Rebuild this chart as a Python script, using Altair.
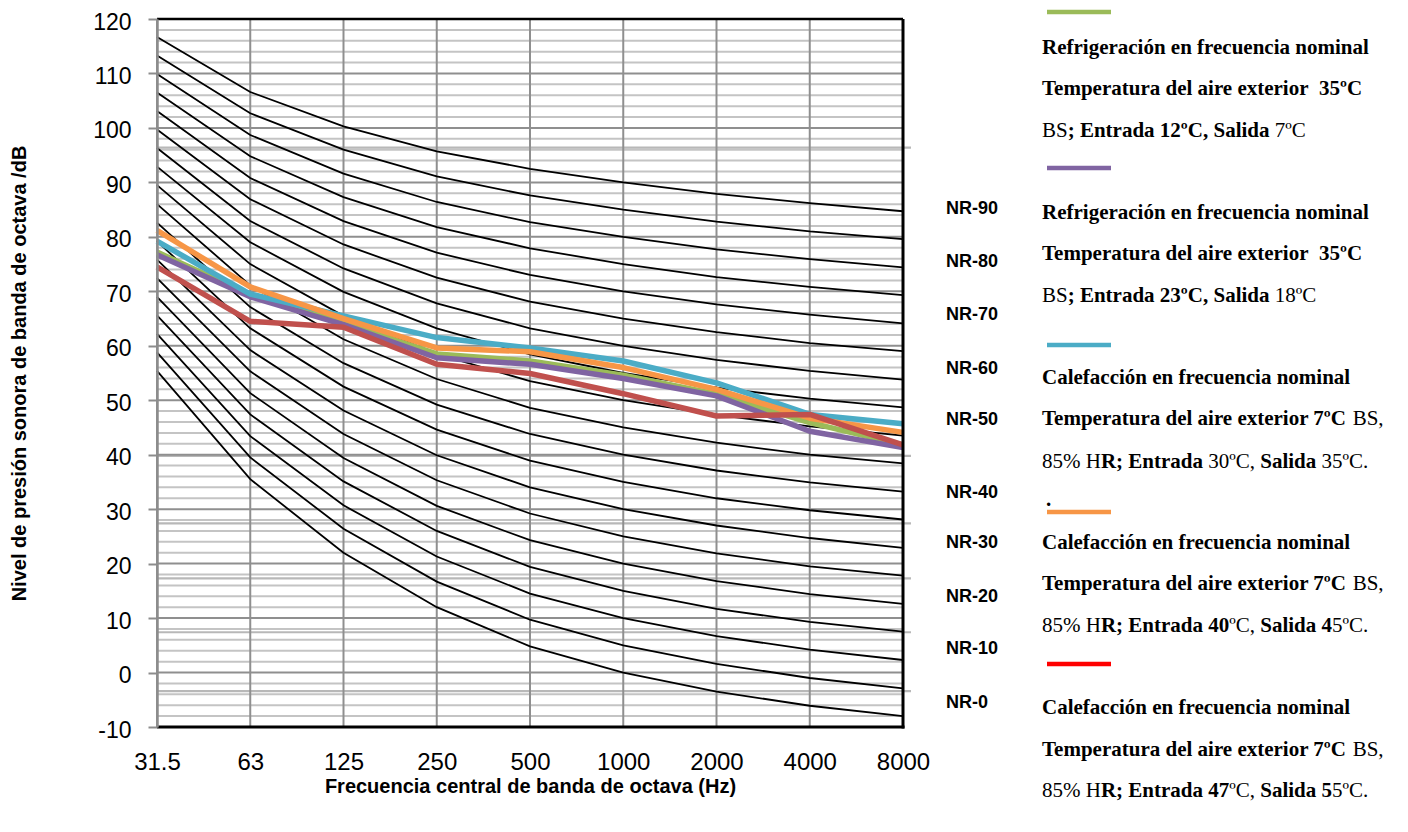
import altair as alt
import pandas as pd

# ---------------- data ----------------
freqs = ["31.5", "63", "125", "250", "500", "1000", "2000", "4000", "8000"]

nr_curves = {
    "NR-0":  [55.4, 35.5, 22.0, 12.0, 4.8, 0.0, -3.5, -6.1, -8.0],
    "NR-5":  [58.8, 39.5, 26.4, 16.7, 9.7, 5.0, 1.6, -1.0, -2.9],
    "NR-10": [62.2, 43.4, 30.7, 21.3, 14.5, 10.0, 6.7, 4.2, 2.3],
    "NR-15": [65.6, 47.4, 35.1, 26.0, 19.4, 15.0, 11.7, 9.3, 7.5],
    "NR-20": [69.0, 51.3, 39.4, 30.6, 24.3, 20.0, 16.8, 14.4, 12.6],
    "NR-25": [72.4, 55.3, 43.8, 35.3, 29.2, 25.0, 21.9, 19.5, 17.8],
    "NR-30": [75.8, 59.2, 48.1, 39.9, 34.0, 30.0, 27.0, 24.7, 22.9],
    "NR-35": [79.2, 63.2, 52.5, 44.6, 38.9, 35.0, 32.0, 29.8, 28.1],
    "NR-40": [82.6, 67.1, 56.8, 49.2, 43.8, 40.0, 37.1, 34.9, 33.2],
    "NR-45": [86.0, 71.1, 61.2, 53.9, 48.6, 45.0, 42.2, 40.0, 38.4],
    "NR-50": [89.5, 75.0, 65.5, 58.5, 53.5, 50.0, 47.3, 45.2, 43.5],
    "NR-55": [92.9, 79.0, 69.9, 63.2, 58.4, 55.0, 52.3, 50.3, 48.7],
    "NR-60": [96.3, 82.9, 74.2, 67.8, 63.2, 60.0, 57.4, 55.4, 53.8],
    "NR-65": [99.7, 86.9, 78.6, 72.5, 68.1, 65.0, 62.5, 60.5, 59.0],
    "NR-70": [103.1, 90.8, 82.9, 77.1, 73.0, 70.0, 67.6, 65.7, 64.1],
    "NR-75": [106.5, 94.8, 87.3, 81.8, 77.9, 75.0, 72.6, 70.8, 69.3],
    "NR-80": [109.9, 98.7, 91.6, 86.4, 82.7, 80.0, 77.7, 75.9, 74.4],
    "NR-85": [113.3, 102.7, 96.0, 91.1, 87.6, 85.0, 82.8, 81.0, 79.6],
    "NR-90": [116.7, 106.6, 100.3, 95.7, 92.5, 90.0, 87.9, 86.2, 84.7],
}

series_names = ["frio_12_7", "frio_23_18", "calor_30_35", "calor_40_45", "calor_47_55"]
series_values = {
    "frio_12_7":   [77.2, 69.3, 64.2, 58.5, 57.2, 54.6, 51.1, 45.9, 41.8],
    "frio_23_18":  [76.7, 69.0, 63.9, 57.8, 56.6, 54.0, 50.8, 44.3, 41.3],
    "calor_30_35": [79.2, 69.5, 65.5, 61.5, 59.6, 57.2, 53.2, 47.4, 45.7],
    "calor_40_45": [81.2, 70.8, 65.0, 59.6, 58.9, 56.0, 52.0, 46.7, 44.1],
    "calor_47_55": [74.5, 64.5, 63.4, 56.6, 54.9, 51.2, 47.1, 47.4, 41.8],
}
series_colors = ["#9BBB59", "#8064A2", "#4BACC6", "#F79646", "#C0504D"]
swatch_colors = ["#9BBB59", "#8064A2", "#4BACC6", "#F79646", "#FF0000"]

nr_label_text = ["NR-90", "NR-80", "NR-70", "NR-60", "NR-50",
                 "NR-40", "NR-30", "NR-20", "NR-10", "NR-0"]
nr_label_level = [85.2, 75.3, 65.6, 55.7, 46.4, 33.0, 23.7, 13.8, 4.3, -5.6]

major_ticks = list(range(-10, 121, 10))
minor_ticks = [v for v in range(-10, 121, 2) if v % 10 != 0]
overlay_lines = [96.4, 39.8, 27.4, 17.3, 7.4, -3.4]

NB = "\u00a0"
legend_blocks = [
    [[("Refrigeración en frecuencia nominal", True)],
     [("Temperatura del aire exterior" + NB + " 35ºC", True)],
     [("BS", False), ("; Entrada 12ºC, Salida", True), (" 7ºC", False)]],
    [[("Refrigeración en frecuencia nominal", True)],
     [("Temperatura del aire exterior" + NB + " 35ºC", True)],
     [("BS", False), ("; Entrada 23ºC, Salida", True), (" 18ºC", False)]],
    [[("Calefacción en frecuencia nominal", True)],
     [("Temperatura del aire exterior 7ºC", True), ("BS,", False, 4)],
     [("85% H", False), ("R; Entrada", True), (" 30ºC, ", False), ("Salida", True), (" 35ºC.", False)]],
    [[("Calefacción en frecuencia nominal", True)],
     [("Temperatura del aire exterior 7ºC", True), ("BS,", False, 4)],
     [("85% H", False), ("R; Entrada 40", True), ("ºC, ", False), ("Salida 4", True), ("5ºC.", False)]],
    [[("Calefacción en frecuencia nominal", True)],
     [("Temperatura del aire exterior 7ºC", True), ("BS,", False, 4)],
     [("85% H", False), ("R; Entrada 47", True), ("ºC, ", False), ("Salida 5", True), ("5ºC.", False)]],
]

# ---------------- layout ----------------
W, H = 746, 708
PAD_L, PAD_T = 149, 11
TOP_ABS = PAD_T + 8
LEG_X = 885          # legend text left, relative to plot left
SW_X1, SW_X2 = 890, 954
block_line_y = [[48, 89, 131], [213, 254, 296], [378, 419, 462], [543, 584, 626], [708, 750, 791]]
swatch_y = [12, 168, 345, 512, 664]
FS_LEG = 21

REG = {' ': 250, 'B': 667, 'S': 556, ',': 250, '.': 250, ';': 278, '%': 833,
       'H': 722, 'R': 667, 'C': 667, 'º': 310}
BOLD = {' ': 250, NB: 250, ';': 333, ',': 250, '.': 250, 'E': 667, 'R': 722, 'S': 556,
        'T': 667, 'C': 722, 'º': 330, 'a': 500, 'd': 556, 'e': 444, 'i': 278, 'l': 278,
        'm': 833, 'n': 556, 'o': 500, 'p': 556, 'r': 444, 't': 333, 'u': 556, 'x': 500,
        'c': 444, 'f': 333, 'g': 500, 'ó': 500, 'F': 611, 'H': 778, 'B': 667}


def place(segments, fs):
    out, cur = [], 0.0
    for seg in segments:
        text, bold = seg[0], seg[1]
        extra = seg[2] if len(seg) > 2 else 0
        tbl = BOLD if bold else REG
        lead = len(text) - len(text.lstrip(' '))
        cur += lead * 250 * fs / 1000 + extra
        body = text.lstrip(' ')
        out.append((cur, body.strip(' '), bold))
        cur += sum(tbl.get(ch, 500) for ch in body) * fs / 1000
    return out


leg_rows = []
for bi, block in enumerate(legend_blocks):
    for li, segs in enumerate(block):
        for off, txt, bold in place(segs, FS_LEG):
            leg_rows.append({"x": LEG_X + off, "y": block_line_y[bi][li] - TOP_ABS,
                             "text": txt, "bold": bold})
leg_rows.append({"x": LEG_X + 4, "y": 500 - TOP_ABS, "text": ".", "bold": True})
leg_df = pd.DataFrame(leg_rows)

sw_df = pd.DataFrame({"y": [v - TOP_ABS for v in swatch_y], "c": swatch_colors})

# ---------------- tables ----------------
nr_df = pd.DataFrame([{"curve": k, "freq": f, "value": v}
                      for k, vals in nr_curves.items() for f, v in zip(freqs, vals)])
nrlab_df = pd.DataFrame({"label": nr_label_text, "level": nr_label_level})
vgrid_df = pd.DataFrame({"freq": freqs})
minor_df = pd.DataFrame({"value": minor_ticks})
major_df = pd.DataFrame({"value": major_ticks})
over_df = pd.DataFrame({"value": overlay_lines})
one = pd.DataFrame({"a": [0]})

xscale = alt.Scale(type="point", domain=freqs, padding=0)
yscale = alt.Scale(domain=[-10, 120], nice=False, zero=False)

XT = "Frecuencia central de banda de octava (Hz)"
YT = "Nivel de presión sonora de banda de octava /dB"
xaxis = alt.Axis(title=XT, labelAngle=0,
                 labelFontSize=24, labelFont="Liberation Sans", labelColor="black",
                 labelPadding=23, ticks=False, domain=False, grid=False,
                 titleFont="Liberation Sans", titleFontSize=20, titleFontWeight="bold",
                 titleColor="black", titleY=59, titleBaseline="middle")
yaxis = alt.Axis(values=major_ticks, title=YT, labelExpr="'' + datum.value",
                 labelFontSize=23, labelFont="Liberation Sans", labelColor="black",
                 labelOffset=3,
                 tickSize=9, tickColor="#8c8c8c", tickWidth=2, domainColor="#8c8c8c",
                 domainWidth=2.5, grid=False, labelPadding=17,
                 titleFont="Liberation Sans", titleFontSize=20, titleFontWeight="bold",
                 titleColor="black", titleX=-138, titleY=H / 2, titleAngle=-90,
                 titleBaseline="middle", titleAlign="center", zindex=1)


def X():
    return alt.X("freq:O", sort=freqs, scale=xscale, axis=xaxis, title=XT)


def Y(field):
    return alt.Y(field, scale=yscale, axis=yaxis, title=YT)


minor = alt.Chart(minor_df).mark_rule(color="#c4c4c4", strokeWidth=2).encode(
    y=Y("value:Q"), x=alt.value(0), x2=alt.value(W))
overlay = alt.Chart(over_df).mark_rule(color="#b8b8b8", strokeWidth=2.2).encode(
    y=Y("value:Q"), x=alt.value(0), x2=alt.value(W + 8))
major = alt.Chart(major_df).mark_rule(color="#8f8f8f", strokeWidth=2).encode(
    y=Y("value:Q"), x=alt.value(0), x2=alt.value(W))
vgrid = alt.Chart(vgrid_df).mark_rule(color="#8f8f8f", strokeWidth=2).encode(
    x=X(), y=alt.value(0), y2=alt.value(H))

nr_lines = alt.Chart(nr_df).mark_line(color="black", strokeWidth=1.8).encode(
    x=X(), y=Y("value:Q"), detail="curve:N")

series_layers = []
for name, col in zip(series_names, series_colors):
    sdf = pd.DataFrame({"freq": freqs, "value": series_values[name]})
    series_layers.append(
        alt.Chart(sdf).mark_line(color=col, strokeWidth=5.5, strokeJoin="round").encode(
            x=X(), y=Y("value:Q")))

top_b = alt.Chart(one).mark_rule(color="black", strokeWidth=2.5).encode(
    x=alt.value(0), x2=alt.value(W), y=alt.value(0))
bot_b = alt.Chart(one).mark_rule(color="black", strokeWidth=3).encode(
    x=alt.value(0), x2=alt.value(W + 1.5), y=alt.value(H))
right_b = alt.Chart(one).mark_rule(color="black", strokeWidth=3).encode(
    x=alt.value(W), y=alt.value(0), y2=alt.value(H + 1.5))

nr_labels = alt.Chart(nrlab_df).mark_text(
    align="left", baseline="middle", font="Liberation Sans", fontWeight="bold",
    fontSize=18, color="black").encode(
    x=alt.value(789), y=Y("level:Q"), text="label:N")

main = alt.layer(minor, overlay, major, vgrid, nr_lines, *series_layers,
                 top_b, bot_b, right_b, nr_labels)

swatches = alt.Chart(sw_df).mark_rule(strokeWidth=4.5).encode(
    x=alt.value(SW_X1), x2=alt.value(SW_X2),
    y=alt.Y("y:Q", scale=None, axis=None),
    color=alt.Color("c:N", scale=None, legend=None))

leg_bold = alt.Chart(leg_df).transform_filter("datum.bold").mark_text(
    align="left", baseline="middle", font="Liberation Serif", fontWeight="bold",
    fontSize=FS_LEG, color="black").encode(
    x=alt.X("x:Q", scale=None, axis=None), y=alt.Y("y:Q", scale=None, axis=None),
    text="text:N")
leg_reg = alt.Chart(leg_df).transform_filter("!datum.bold").mark_text(
    align="left", baseline="middle", font="Liberation Serif", fontWeight="normal",
    fontSize=FS_LEG, color="black").encode(
    x=alt.X("x:Q", scale=None, axis=None), y=alt.Y("y:Q", scale=None, axis=None),
    text="text:N")

legend = alt.layer(swatches, leg_bold, leg_reg)

chart = alt.layer(main, legend).resolve_scale(
    x="independent", y="independent"
).properties(
    width=W, height=H,
    autosize=alt.AutoSizeParams(type="none"),
    padding={"left": PAD_L, "top": PAD_T, "right": 492, "bottom": 88},
    background="white",
).configure_view(stroke=None)

chart.save("out.html", embed_options={"renderer": "svg", "actions": False})
